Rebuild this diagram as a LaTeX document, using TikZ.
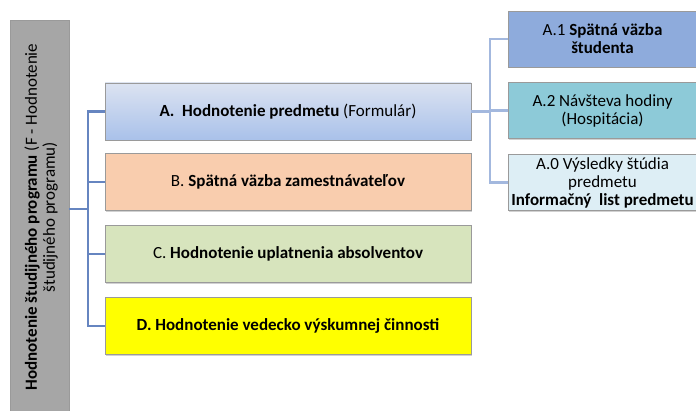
\documentclass[tikz,border=0pt]{standalone}
\usepackage{fontspec}
\setmainfont{Carlito}
\usetikzlibrary{shadows}
\definecolor{grayfill}{HTML}{A6A6A6}
\definecolor{boxborder}{HTML}{9A9A9A}
\definecolor{Atop}{HTML}{DCE3F1}
\definecolor{Abot}{HTML}{A9C1EA}
\definecolor{Bfill}{HTML}{F9CDAE}
\definecolor{Cfill}{HTML}{D7E4BD}
\definecolor{Dfill}{HTML}{FFFF00}
\definecolor{Aone}{HTML}{8EABDC}
\definecolor{Atwo}{HTML}{8DCAD8}
\definecolor{Azero}{HTML}{DDEEF5}
\definecolor{lineL}{HTML}{6685C0}
\definecolor{lineR}{HTML}{A3B8DE}
\tikzset{
  x=1pt, y=-1pt,
  every node/.style={font=\fontsize{17}{18}\selectfont, inner sep=0pt},
  box/.style={draw=boxborder, line width=0.8pt, rectangle, align=center,
     drop shadow={shadow xshift=1pt, shadow yshift=-1.2pt, fill=black!30, opacity=0.6}},
  mainbox/.style={box, minimum width=366pt, minimum height=57pt},
  subbox/.style={box, minimum width=189pt, minimum height=56pt},
  connL/.style={draw=lineL, line width=2.5pt},
  connR/.style={draw=lineR, line width=2.5pt}
}
\begin{document}
\begin{tikzpicture}
\useasboundingbox (0,0) rectangle (696,411);
% left vertical box
\node[draw=boxborder, fill=grayfill, line width=0.8pt, minimum width=59pt, minimum height=394pt, anchor=north west] (G) at (9.5,20) {};
\node[rotate=90, align=center] (Gt) at (41,217) {\textbf{Hodnotenie študijného programu} (F - Hodnotenie\\študijného programu)};
% main boxes
\node[mainbox, top color=Atop, bottom color=Abot] (A) at (288,111.5) {\textbf{A.\ \ Hodnotenie predmetu} (Formulár)};
\node[mainbox, fill=Bfill] (B) at (288,182) {B. \textbf{Spätná väzba zamestnávateľov}};
\node[mainbox, fill=Cfill] (C) at (288,254) {C. \textbf{Hodnotenie uplatnenia absolventov}};
\node[mainbox, fill=Dfill] (D) at (288,326) {\textbf{D. Hodnotenie vedecko výskumnej činnosti}};
% sub boxes
\node[subbox, fill=Aone] (A1) at (602.5,39) {A.1 \textbf{Spätná väzba}\\\textbf{študenta}};
\node[subbox, fill=Atwo] (A2) at (602.5,110.5) {A.2 Návšteva hodiny\\(Hospitácia)};
\node[subbox, fill=Azero] (A0) at (602.5,182.5) {A.0 Výsledky štúdia\\predmetu\\\textbf{Informačný\ \ list predmetu}};
% left connectors
\coordinate (j) at (88,209);
\draw[connL] (G.east |- j) -- (j);
\draw[connL] (A.west) -| (j) |- (D.west);
\draw[connL] (B.west) -- (B.west -| j);
\draw[connL] (C.west) -- (C.west -| j);
% right connectors
\coordinate (k) at (490,111.5);
\draw[connR] (A.east) -- (k);
\draw[connR] (A1.west) -| (k) |- (A0.west);
\draw[connR] (A2.west) -- (A2.west -| k);
\end{tikzpicture}
\end{document}
